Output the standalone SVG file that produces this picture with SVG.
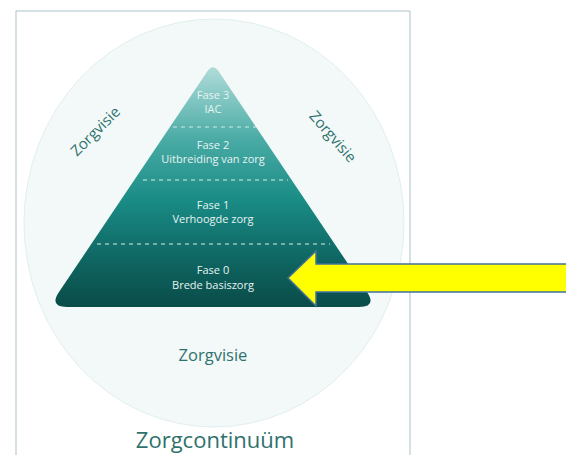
<svg xmlns="http://www.w3.org/2000/svg" width="566" height="455" viewBox="0 0 566 455">
<style>
.ph{font-family:"Open Sans","Noto Sans",sans-serif;font-size:11px;fill:#e6f3f2;text-anchor:middle}
.zv{font-family:"Open Sans","Noto Sans",sans-serif;font-size:15px;fill:#2f716c;text-anchor:middle}
.dash{stroke:#d8eeec;stroke-width:1.2;stroke-dasharray:4,4;fill:none}
</style>
<defs>
<linearGradient id="pg" x1="0" y1="0" x2="0" y2="1">
<stop offset="0" stop-color="#b0dcd9"/>
<stop offset="0.3" stop-color="#4aaba5"/>
<stop offset="0.55" stop-color="#1a8c86"/>
<stop offset="0.8" stop-color="#0f6662"/>
<stop offset="1" stop-color="#0a4c48"/>
</linearGradient>
</defs>
<rect width="566" height="455" fill="#ffffff"/>
<g id="frame">
<path d="M16,455 L16,11 L410,11 L410,455" fill="none" stroke="#a9c1c6" stroke-width="1"/>
</g>
<g id="circle">
<ellipse cx="214" cy="223" rx="190" ry="204" fill="#f3f9f9" stroke="#e2eeee" stroke-width="1"/>
</g>
<g id="pyramid">
<path d="M207.4,71.3 Q213,63 218.6,71.3 L367,292 Q377,307 359,307 L67,307 Q49,307 59,292 Z" fill="url(#pg)"/>
<line class="dash" x1="173" y1="127" x2="256" y2="127"/>
<line class="dash" x1="143" y1="180" x2="288" y2="180"/>
<line class="dash" x1="97" y1="244" x2="330" y2="244"/>
</g>
<g id="fase3"><text class="ph" x="213" y="99">Fase 3</text><text class="ph" x="213" y="113">IAC</text></g>
<g id="fase2"><text class="ph" x="213" y="149">Fase 2</text><text class="ph" x="213" y="163">Uitbreiding van zorg</text></g>
<g id="fase1"><text class="ph" x="213" y="209">Fase 1</text><text class="ph" x="213" y="223">Verhoogde zorg</text></g>
<g id="fase0"><text class="ph" x="213" y="274">Fase 0</text><text class="ph" x="213" y="289">Brede basiszorg</text></g>
<g id="labels">
<text class="zv" transform="translate(99,135) rotate(-45)">Zorgvisie</text>
<text class="zv" transform="translate(329,140) rotate(49)">Zorgvisie</text>
<text class="zv" x="213" y="361" style="font-size:16.5px">Zorgvisie</text>
<text class="zv" x="215" y="448" style="font-size:22px">Zorgcontinuüm</text>
</g>
<g id="arrow">
<path d="M288,278 L316,251 L316,264 L570,264 L570,292 L316,292 L316,306 Z" fill="#ffff00" stroke="#41719c" stroke-width="1.5" stroke-linejoin="miter"/>
</g>
</svg>
